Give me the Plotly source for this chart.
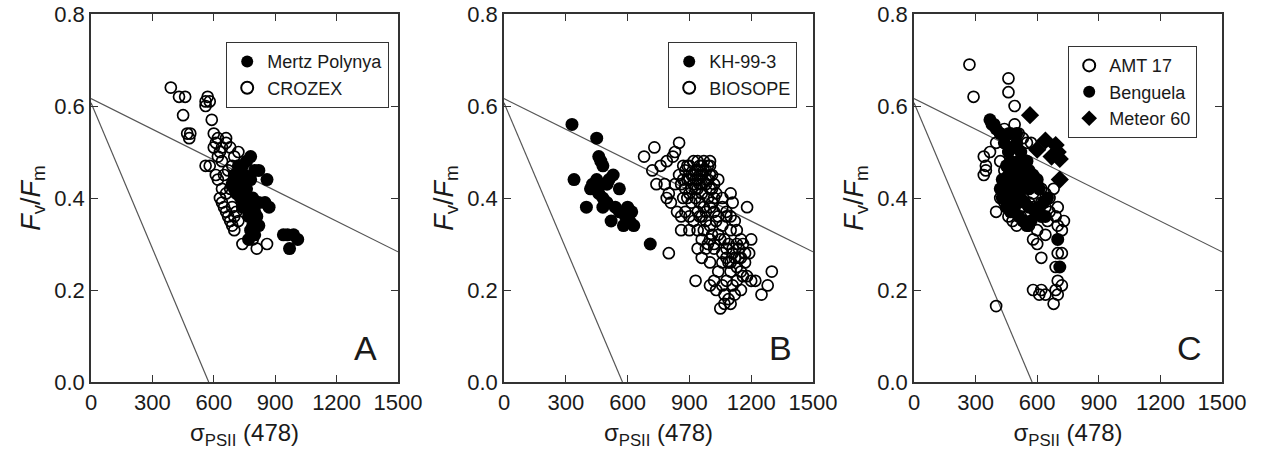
import plotly.graph_objects as go

# ---------------- data ----------------
# Panel A
mertz_x = [780, 760, 740, 800, 820, 860, 730, 720, 750, 700, 710, 730, 760, 790, 820, 850, 870, 780, 800, 770,
           810, 790, 820, 780, 800, 770, 940, 960, 990, 1010, 970, 720, 700, 750, 740, 760, 780, 690]
mertz_y = [0.49, 0.48, 0.47, 0.46, 0.46, 0.44, 0.45, 0.44, 0.43, 0.42, 0.41, 0.40, 0.40, 0.40, 0.39, 0.39, 0.38, 0.38, 0.37, 0.36,
           0.36, 0.34, 0.34, 0.33, 0.32, 0.31, 0.32, 0.32, 0.32, 0.31, 0.29, 0.47, 0.45, 0.45, 0.38, 0.42, 0.44, 0.43]
crozex_x = [390, 430, 460, 450, 470, 480, 485, 560, 570, 580, 560, 590, 600, 610, 620, 600, 630, 640, 660, 660,
            680, 700, 720, 560, 580, 620, 630, 640, 650, 660, 670, 680, 690, 700, 720, 740, 790, 810, 860, 650,
            670, 690, 640, 620, 700, 680, 660, 690, 700, 710, 640, 610]
crozex_y = [0.64, 0.62, 0.62, 0.58, 0.54, 0.53, 0.54, 0.61, 0.62, 0.61, 0.60, 0.57, 0.54, 0.52, 0.53, 0.51, 0.50, 0.51, 0.52, 0.53,
            0.51, 0.49, 0.50, 0.47, 0.47, 0.44, 0.40, 0.39, 0.38, 0.37, 0.36, 0.35, 0.34, 0.33, 0.35, 0.30, 0.31, 0.29, 0.30, 0.45,
            0.46, 0.47, 0.48, 0.49, 0.44, 0.42, 0.41, 0.38, 0.36, 0.37, 0.42, 0.45]

# Panel B
kh_x = [330, 340, 450, 460, 470, 480, 430, 450, 470, 400, 440, 460, 480, 500, 510, 530, 560, 540, 520, 560,
        590, 600, 620, 610, 580, 630, 500, 420, 710, 480]
kh_y = [0.56, 0.44, 0.53, 0.49, 0.48, 0.47, 0.43, 0.44, 0.43, 0.38, 0.42, 0.41, 0.40, 0.39, 0.44, 0.45, 0.42, 0.38, 0.35, 0.37,
        0.36, 0.38, 0.37, 0.35, 0.34, 0.34, 0.43, 0.42, 0.30, 0.38]
biosope_x = [680, 730, 760, 720, 740, 790, 820, 850, 830, 780, 800, 790, 810,
             880, 890, 900, 910, 920, 930, 940, 950, 960, 970, 980, 990, 1000, 1010, 1020, 880,
             900, 920, 940, 960, 980, 1000, 1020, 900, 920, 940, 960, 980, 1000, 870, 890, 910,
             930, 950, 970, 990, 1010, 1030, 1040, 860, 870, 950, 930, 910, 970, 990, 950, 930,
             960, 940, 1010, 890, 1000, 870, 850, 830,
             840, 860, 880, 900, 920, 940, 960, 980, 1000, 1020, 1040, 1060, 1080, 1100, 1120, 1060,
             1100, 1130, 900, 940, 960, 980, 1000, 1020, 1050, 1070, 1090, 1110, 1130, 1150, 1060, 1080,
             1100, 1120, 1140, 1160, 1170, 1190, 1200, 960, 940, 800, 930, 1180, 1110, 860,
             1050, 1070, 1090, 1100, 1120, 1150, 1180, 1200, 1220, 1250, 1280, 1300, 1160, 1170, 1140, 1080,
             1060, 1040, 1020, 1000, 1000, 1020, 1040, 1060, 1080, 1100, 1030, 1010, 990, 970, 950, 980,
             1000, 1030, 1060, 1080, 1100, 1130, 1150, 1090, 1110, 1130, 1150, 1070, 1110]
biosope_y = [0.49, 0.51, 0.47, 0.46, 0.43, 0.48, 0.49, 0.52, 0.50, 0.43, 0.41, 0.40, 0.39,
             0.46, 0.44, 0.47, 0.45, 0.48, 0.46, 0.44, 0.47, 0.45, 0.48, 0.46, 0.44, 0.47, 0.45, 0.43, 0.42,
             0.41, 0.43, 0.42, 0.41, 0.43, 0.42, 0.40, 0.44, 0.45, 0.46, 0.43, 0.44, 0.45, 0.44, 0.40, 0.39,
             0.40, 0.39, 0.38, 0.40, 0.39, 0.41, 0.44, 0.43, 0.40, 0.43, 0.44, 0.42, 0.46, 0.47, 0.45, 0.42,
             0.47, 0.48, 0.42, 0.47, 0.48, 0.47, 0.45, 0.43,
             0.37, 0.36, 0.37, 0.36, 0.35, 0.37, 0.36, 0.35, 0.34, 0.37, 0.36, 0.38, 0.37, 0.36, 0.35, 0.40,
             0.41, 0.33, 0.33, 0.33, 0.31, 0.29, 0.31, 0.30, 0.31, 0.31, 0.30, 0.29, 0.30, 0.31, 0.28, 0.27,
             0.26, 0.27, 0.29, 0.30, 0.26, 0.28, 0.31, 0.27, 0.29, 0.28, 0.22, 0.38, 0.39, 0.33,
             0.16, 0.17, 0.18, 0.17, 0.19, 0.20, 0.23, 0.22, 0.22, 0.19, 0.21, 0.24, 0.23, 0.28, 0.27, 0.29,
             0.26, 0.24, 0.22, 0.21, 0.26, 0.29, 0.32, 0.34, 0.36, 0.33, 0.35, 0.32, 0.30, 0.33, 0.36, 0.37,
             0.38, 0.20, 0.21, 0.22, 0.24, 0.25, 0.27, 0.26, 0.28, 0.22, 0.24, 0.19, 0.21]

# Panel C
amt_x = [270, 290, 460, 460, 490, 490, 510, 530, 550, 570, 340, 350, 340, 350, 370, 400, 420, 440, 460, 480,
         400, 420, 440, 460, 480, 500, 520, 540, 560, 580, 600, 600, 620, 640, 650, 660, 680, 700, 690, 700,
         730, 720, 700, 720, 690, 700, 720, 690, 680, 700, 580, 620, 640, 610, 400, 560, 580, 600, 620, 640,
         560, 540, 520, 500, 580, 600, 620, 640, 660, 520, 500, 480, 460, 440, 420]
amt_y = [0.69, 0.62, 0.66, 0.63, 0.60, 0.56, 0.54, 0.53, 0.52, 0.52, 0.49, 0.47, 0.45, 0.46, 0.50, 0.52, 0.54, 0.55, 0.54, 0.51,
         0.37, 0.40, 0.39, 0.36, 0.35, 0.34, 0.36, 0.35, 0.34, 0.31, 0.30, 0.33, 0.27, 0.32, 0.35, 0.40, 0.42, 0.38, 0.36, 0.34,
         0.35, 0.33, 0.28, 0.28, 0.25, 0.22, 0.21, 0.20, 0.17, 0.19, 0.20, 0.20, 0.19, 0.19, 0.165, 0.39, 0.41, 0.43, 0.42, 0.41,
         0.44, 0.47, 0.48, 0.49, 0.38, 0.37, 0.39, 0.38, 0.37, 0.38, 0.40, 0.42, 0.44, 0.46, 0.48]
benguela_x = [370, 380, 390, 400, 420, 440, 460, 470, 480, 500, 520, 540, 560, 580, 600, 560, 540, 520, 500, 480,
              460, 440, 420, 430, 450, 470, 490, 510, 530, 550, 570, 590, 610, 630, 650, 560, 540, 520, 500, 480,
              460, 450, 470, 490, 510, 530, 550, 570, 610, 700, 710, 620, 640, 480, 500, 520, 430, 470, 500]
benguela_y = [0.57, 0.56, 0.56, 0.55, 0.54, 0.52, 0.50, 0.48, 0.46, 0.45, 0.44, 0.45, 0.46, 0.45, 0.44, 0.42, 0.43, 0.42, 0.41, 0.40,
              0.41, 0.42, 0.42, 0.40, 0.38, 0.37, 0.38, 0.36, 0.35, 0.34, 0.35, 0.37, 0.38, 0.39, 0.40, 0.38, 0.39, 0.40, 0.43, 0.44,
              0.45, 0.47, 0.43, 0.47, 0.48, 0.47, 0.48, 0.44, 0.42, 0.31, 0.25, 0.36, 0.36, 0.51, 0.52, 0.50, 0.44, 0.54, 0.54]
meteor_x = [565, 640, 690, 670, 710, 600, 710, 700]
meteor_y = [0.58, 0.525, 0.515, 0.49, 0.485, 0.505, 0.44, 0.50]

# reference lines (same in every panel)
line1_x = [0, 1500]
line1_y = [0.616, 0.283]
line2_x = [0, 575]
line2_y = [0.607, 0.0]

x_ticks = [0, 300, 600, 900, 1200, 1500]
y_ticks = [0.0, 0.2, 0.4, 0.6, 0.8]
y_tick_text = ["0.0", "0.2", "0.4", "0.6", "0.8"]
panel_letters = ["A", "B", "C"]

# ---------------- figure ----------------
W, H = 1261, 466
FONT = "Liberation Sans, Arial, sans-serif"
TXT = "#1a1a1a"
fig = go.Figure()

x_domains = [[91 / W, 398 / W], [504 / W, 813 / W], [914 / W, 1222 / W]]
y_domain = [1 - 382 / H, 1 - 14 / H]

panels = [
    [("Mertz Polynya", mertz_x, mertz_y, "circle"), ("CROZEX", crozex_x, crozex_y, "circle-open")],
    [("KH-99-3", kh_x, kh_y, "circle"), ("BIOSOPE", biosope_x, biosope_y, "circle-open")],
    [("AMT 17", amt_x, amt_y, "circle-open"), ("Benguela", benguela_x, benguela_y, "circle"),
     ("Meteor 60", meteor_x, meteor_y, "diamond")],
]
legend_names = ["legend", "legend2", "legend3"]
legend_pos = [(226 / W, 1 - 42 / H), (668 / W, 1 - 42 / H), (1068 / W, 1 - 46 / H)]

for i, series in enumerate(panels):
    xa = "x" if i == 0 else f"x{i+1}"
    ya = "y" if i == 0 else f"y{i+1}"
    for lx, ly in [(line1_x, line1_y), (line2_x, line2_y)]:
        fig.add_trace(go.Scatter(x=lx, y=ly, mode="lines", line=dict(color="#555555", width=1.2),
                                 showlegend=False, hoverinfo="skip", xaxis=xa, yaxis=ya))
    for name, xs, ys, sym in series:
        if sym == "circle-open":
            marker = dict(symbol="circle-open", size=11, color="black", line=dict(width=1.7, color="black"))
        elif sym == "diamond":
            marker = dict(symbol="diamond", size=14, color="black")
        else:
            marker = dict(symbol="circle", size=13, color="black")
        fig.add_trace(go.Scatter(x=xs, y=ys, mode="markers", name=name, marker=marker,
                                 xaxis=xa, yaxis=ya, legend=legend_names[i]))

layout = dict(
    width=W, height=H, margin=dict(l=0, r=0, t=0, b=0, autoexpand=False),
    paper_bgcolor="white", plot_bgcolor="white",
    font=dict(family=FONT, color=TXT),
    annotations=[],
)
for i in range(3):
    sx = "" if i == 0 else str(i + 1)
    layout["xaxis" + sx] = dict(
        domain=x_domains[i], range=[0, 1500], anchor="y" + sx, automargin=False,
        tickvals=x_ticks, ticks="inside", ticklen=7, tickwidth=1.2, tickcolor="#333",
        showline=True, linecolor="#333", linewidth=1.5, mirror="ticks", showgrid=False, zeroline=False,
        tickfont=dict(size=22, family=FONT, color=TXT),
        title=dict(text="σ<sub>PSII</sub> (478)", font=dict(size=24, family=FONT, color=TXT), standoff=10),
    )
    layout["yaxis" + sx] = dict(
        domain=y_domain, range=[0, 0.8], anchor="x" + sx, automargin=False,
        tickvals=y_ticks, ticktext=y_tick_text, ticks="inside", ticklen=7, tickwidth=1.2, tickcolor="#333",
        showline=True, linecolor="#333", linewidth=1.5, mirror="ticks", showgrid=False, zeroline=False,
        tickfont=dict(size=22, family=FONT, color=TXT),
        title=dict(text="<i>F</i><sub>v</sub>/<i>F</i><sub>m</sub>", font=dict(size=27, family=FONT, color=TXT),
                   standoff=6),
    )
    lx, ly = legend_pos[i]
    layout[legend_names[i]] = dict(
        x=lx, y=ly, xanchor="left", yanchor="top", xref="paper", yref="paper",
        bordercolor="#333", borderwidth=1.2, bgcolor="white",
        font=dict(size=18, family=FONT, color=TXT),
        itemsizing="constant", tracegroupgap=0, itemwidth=30,
    )
    layout["annotations"].append(dict(
        text=panel_letters[i], x=1340, y=0.075, xref="x" + sx, yref="y" + sx,
        showarrow=False, font=dict(size=34, family=FONT, color=TXT), xanchor="center", yanchor="middle",
    ))

fig.update_layout(**layout)
fig.write_html("out.html", config={"displayModeBar": False},
               post_script="document.body.style.margin='0';document.body.style.padding='0';")
